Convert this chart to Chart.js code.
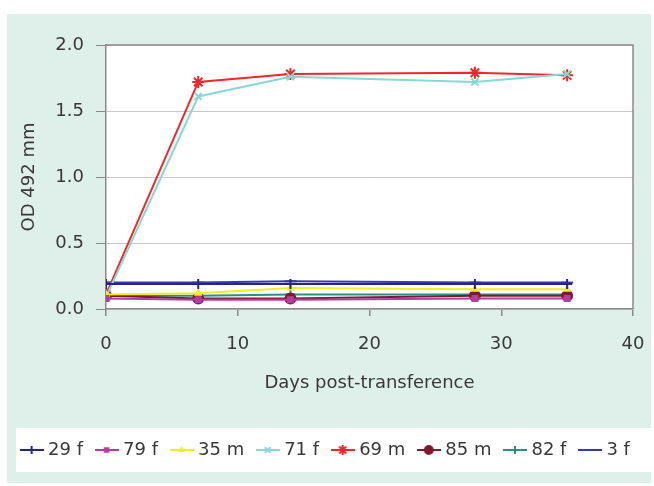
<!DOCTYPE html>
<html>
<head>
<meta charset="utf-8">
<script src="https://cdn.jsdelivr.net/npm/chart.js@4.4.0/dist/chart.umd.min.js"></script>
<style>
  html, body { margin: 0; padding: 0; background: #fff; }
  #wrap { position: relative; width: 654px; height: 486px; overflow: hidden; }
  #panel { position: absolute; left: 7px; top: 14px; width: 644px; height: 469px; background: #dff0eb; }
  #legendBox { position: absolute; left: 16px; top: 428px; width: 636px; height: 44px; background: #fff; }
  canvas { position: absolute; left: 0; top: 0; }
</style>
</head>
<body>
<div id="wrap">
  <div id="panel"></div>
  <div id="legendBox"></div>
  <canvas id="odChart" width="654" height="486"></canvas>
</div>
<script>
// Datos
const days = [0, 7, 14, 28, 35];
const seriesNames = ['29 f', '79 f', '35 m', '71 f', '69 m', '85 m', '82 f', '3 f'];
const s29f = [0.19, 0.19, 0.19, 0.19, 0.19];
const s79f = [0.08, 0.07, 0.07, 0.08, 0.08];
const s35m = [0.11, 0.12, 0.16, 0.15, 0.15];
const s71f = [0.09, 1.61, 1.76, 1.72, 1.78];
const s69m = [0.11, 1.72, 1.78, 1.79, 1.77];
const s85m = [0.10, 0.08, 0.08, 0.10, 0.10];
const s82f = [0.10, 0.10, 0.11, 0.11, 0.11];
const s3f = [0.20, 0.20, 0.21, 0.20, 0.20];
const yTicks = [0, 0.5, 1.0, 1.5, 2.0];
const xTicks = [0, 10, 20, 30, 40];

const seriesValues = [s29f, s79f, s35m, s71f, s69m, s85m, s82f, s3f];
const colors = ['#262680', '#b040a0', '#eeee22', '#88d8d4', '#f02828', '#801830', '#2a9080', '#3838b0'];
const markers = ['cross', 'rect', 'triangle', 'crossRot', 'star', 'circle', 'cross', 'line'];
const radii = [5, 3.5, 3, 5, 6, 5, 5, 6];

const font = { family: 'DejaVu Sans', size: 18 };
const textColor = '#383838';

// Iconos de leyenda: línea + marcador
function legendIcon(i) {
  const c = document.createElement('canvas');
  c.width = 24; c.height = 14;
  const g = c.getContext('2d');
  g.strokeStyle = colors[i];
  g.fillStyle = colors[i];
  g.lineWidth = 2;
  g.beginPath(); g.moveTo(0, 7); g.lineTo(24, 7); g.stroke();
  Chart.helpers.drawPoint(g, { pointStyle: markers[i], radius: radii[i] - 1, borderWidth: 2, rotation: 0 }, 12, 7);
  return c;
}
const icons = seriesNames.map((_, i) => legendIcon(i));

const datasets = seriesNames.map((name, i) => ({
  label: name,
  data: days.map((d, k) => ({ x: d, y: seriesValues[i][k] })),
  borderColor: colors[i],
  backgroundColor: colors[i],
  borderWidth: 2,
  pointStyle: markers[i],
  pointRadius: radii[i],
  pointBorderWidth: 2,
  pointBackgroundColor: colors[i],
  pointBorderColor: colors[i],
  tension: 0
}));

// Fondo blanco del área de trazado y marco
const plotFrame = {
  id: 'plotFrame',
  beforeDraw(chart) {
    const { ctx, chartArea: a } = chart;
    ctx.save();
    ctx.fillStyle = '#fff';
    ctx.fillRect(a.left, a.top, a.width, a.height);
    ctx.restore();
  },
  beforeDatasetsDraw(chart) {
    const { ctx, chartArea: a } = chart;
    ctx.save();
    ctx.strokeStyle = '#8a8a8a';
    ctx.lineWidth = 1.5;
    ctx.beginPath();
    ctx.moveTo(a.left, a.top); ctx.lineTo(a.right, a.top); ctx.lineTo(a.right, a.bottom);
    ctx.stroke();
    ctx.restore();
  }
};

new Chart(document.getElementById('odChart'), {
  type: 'line',
  data: { datasets },
  plugins: [plotFrame],
  options: {
    responsive: false,
    animation: false,
    layout: { padding: { left: 0, right: 0, top: 45, bottom: 17 } },
    plugins: {
      tooltip: { enabled: false },
      legend: {
        position: 'bottom',
        labels: {
          usePointStyle: true,
          pointStyleWidth: 15,
          padding: 16,
          font: font,
          color: textColor,
          generateLabels: chart => chart.data.datasets.map((ds, i) => ({
            text: ds.label,
            pointStyle: icons[i],
            fillStyle: colors[i],
            strokeStyle: colors[i],
            lineWidth: 0,
            hidden: false,
            datasetIndex: i,
            fontColor: textColor
          }))
        }
      }
    },
    scales: {
      x: {
        type: 'linear',
        min: 0, max: 40,
        afterBuildTicks: s => { s.ticks = xTicks.map(v => ({ value: v })); },
        ticks: { padding: 18, color: textColor, font: font, maxRotation: 0 },
        grid: { drawOnChartArea: false, tickLength: 7, color: '#8a8a8a', lineWidth: 1.5 },
        border: { color: '#8a8a8a', width: 1.5 },
        title: { display: true, text: 'Days post-transference', color: textColor, font: font, padding: { top: 0, bottom: 31 } },
        afterFit: s => { s.height = 116; s.paddingRight = 21; }
      },
      y: {
        min: 0, max: 2,
        afterBuildTicks: s => { s.ticks = yTicks.map(v => ({ value: v })); },
        ticks: { padding: 12, color: textColor, font: font, callback: v => v.toFixed(1) },
        grid: { color: '#c8c8c8', tickColor: '#8a8a8a', tickLength: 10 },
        border: { color: '#8a8a8a', width: 1.5 },
        title: { display: true, text: 'OD 492 mm', color: textColor, font: font, padding: { top: 19, bottom: 0 } },
        afterFit: s => { s.width = 106; }
      }
    }
  }
});
</script>
</body>
</html>
